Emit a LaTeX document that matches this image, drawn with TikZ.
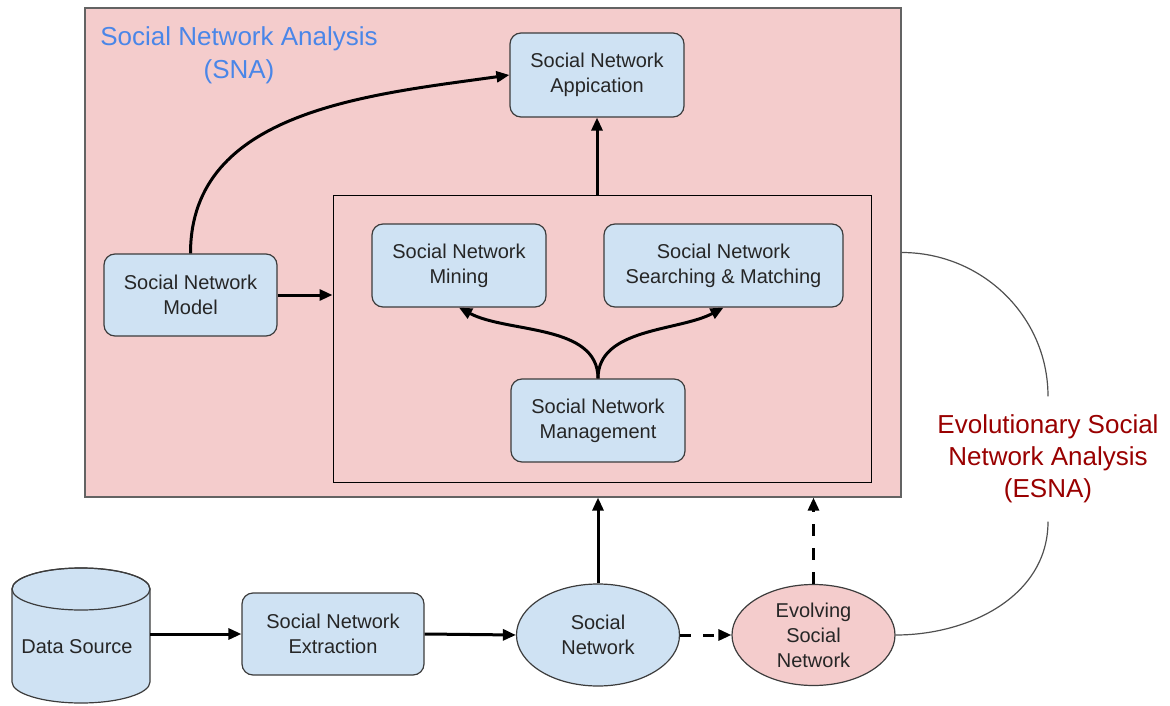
\documentclass[tikz,border=0pt]{standalone}
\usepackage{fontspec}
\setmainfont{Liberation Sans}
\usetikzlibrary{arrows.meta,shapes.geometric}
\definecolor{snapink}{HTML}{F4CCCC}
\definecolor{snablue}{HTML}{CFE2F3}
\definecolor{titleblue}{HTML}{4A86E8}
\definecolor{esnared}{HTML}{990000}
\definecolor{edgegray}{HTML}{3C3C3C}

\begin{document}
\begin{tikzpicture}[x=1pt,y=-1pt,
  boxtext/.style={font=\fontsize{20}{25}\selectfont, align=center, text=black!85},
  box/.style={boxtext, draw=edgegray, line width=1.2pt, fill=snablue,
    rounded corners=11pt, inner sep=0pt},
  oval/.style={boxtext, ellipse, draw=edgegray, line width=1.2pt, inner sep=0pt},
  frame/.style={draw, inner sep=0pt},
  arr/.style={line width=3pt, -{Triangle[length=13pt,width=11pt]}},
  thinarc/.style={draw=edgegray!90, line width=1.2pt},
]
\useasboundingbox (0,0) rectangle (1170,706);

% outer analysis region and inner processing frame
\node[frame, draw=edgegray!80, line width=1.2pt, fill=snapink,
  minimum width=816pt, minimum height=489pt] (sna) at (493,252.5) {};
\node[frame, draw=black, line width=1pt,
  minimum width=538pt, minimum height=287pt] (inner) at (602,338.5) {};

\node[font=\fontsize{26}{33}\selectfont, text=titleblue, align=center]
  (snatitle) at (239,55) {Social Network Analysis\\(SNA)};

% boxes inside the analysis region
\node[box, minimum width=174pt, minimum height=84pt] (app) at (597,75) {Social Network\\Appication};
\node[box, minimum width=173pt, minimum height=82pt] (model) at (190.5,295) {Social Network\\Model};
\node[box, minimum width=174pt, minimum height=83pt] (mining) at (459,265.5) {Social Network\\Mining};
\node[box, minimum width=239pt, minimum height=83pt] (search) at (723.5,265.5) {Social Network\\Searching \& Matching};
\node[box, minimum width=174pt, minimum height=83pt] (mgmt) at (598,420.5) {Social Network\\Management};

% data source cylinder
\draw[draw=edgegray, line width=1.2pt, fill=snablue]
  (12,589) -- (12,682) arc[start angle=180, end angle=360, x radius=69pt, y radius=21pt]
  -- (150,589) arc[start angle=0, end angle=180, x radius=69pt, y radius=21pt] -- cycle;
\draw[draw=edgegray, line width=1.2pt] (81,589) ellipse [x radius=69pt, y radius=21pt];
\node[boxtext, minimum width=146pt, inner sep=0pt] (ds) at (77,647) {Data Source};

% bottom pipeline
\node[box, minimum width=182pt, minimum height=82pt] (ext) at (333,634) {Social Network\\Extraction};
\node[oval, fill=snablue, minimum width=163pt, minimum height=102pt] (sn) at (598,635) {Social\\Network};
\node[oval, fill=snapink, minimum width=163pt, minimum height=101pt] (evo) at (813.5,635) {Evolving\\Social\\Network};

% evolutionary analysis label
\node[font=\fontsize{26}{32}\selectfont, text=esnared, align=center,
  minimum height=125pt, inner sep=0pt] (esna) at (1048,459)
  {Evolutionary Social\\Network Analysis\\(ESNA)};

% connectors
\draw[arr] (ds.east |- ext.west) -- (ext.west);
\draw[arr] (ext.east) -- (sn.west);
\draw[arr, dash pattern=on 11pt off 12pt] (sn.east) -- (evo.west);
\draw[arr] (sn.north) -- (sn.north |- sna.south);
\draw[arr, dash pattern=on 12pt off 12pt] (evo.north) -- (evo.north |- sna.south);
\draw[arr] (model.east) -- (inner.west |- model.east);
\draw[arr] (app.south |- inner.north) -- (app.south);
\draw[arr] (model.north) to[out=90, in=188] (app.west);
\draw[arr] (mgmt.north) to[out=90, in=-28, looseness=0.9] (mining.south);
\draw[arr] (mgmt.north) to[out=90, in=208, looseness=0.9] (search.south);

% arc tying the analysis region to the evolving network
\draw[thinarc] (sna.east) to[out=0, in=90] (esna.north);
\draw[thinarc] (esna.south) to[out=-90, in=0] (evo.east);
\end{tikzpicture}
\end{document}
